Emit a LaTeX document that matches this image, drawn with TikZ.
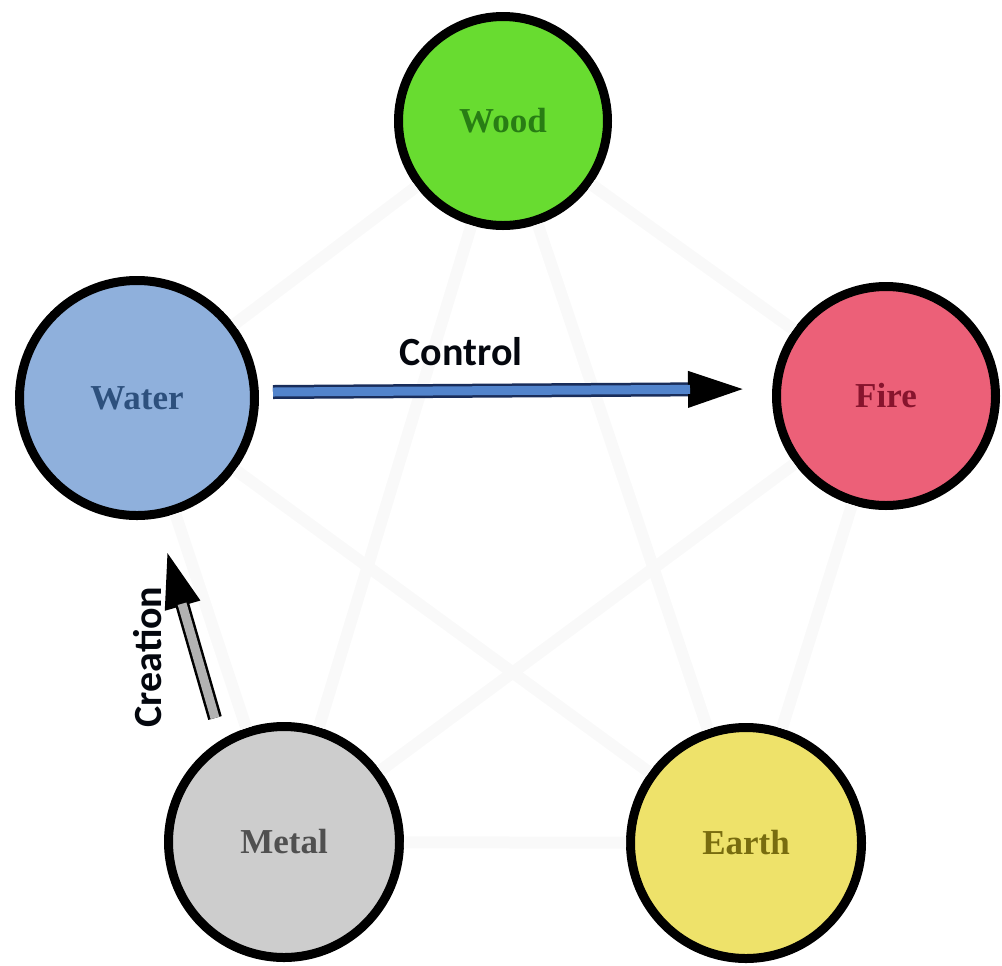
\documentclass[tikz,border=0pt]{standalone}
\usepackage{fontspec}
\setmainfont{Liberation Serif}
\newfontfamily\arrowfont{Carlito}
\usetikzlibrary{arrows.meta, calc}

\definecolor{woodgreen}{RGB}{104,220,48}
\definecolor{woodtext}{RGB}{40,125,20}
\definecolor{waterblue}{RGB}{143,176,220}
\definecolor{watertext}{RGB}{45,80,125}
\definecolor{firered}{RGB}{236,96,120}
\definecolor{firetext}{RGB}{135,20,45}
\definecolor{metalgray}{RGB}{205,205,205}
\definecolor{metaltext}{RGB}{80,80,80}
\definecolor{earthyellow}{RGB}{238,226,106}
\definecolor{earthtext}{RGB}{120,108,15}
\definecolor{ctrlblue}{RGB}{82,132,204}
\definecolor{ctrledge}{RGB}{25,45,90}

\tikzset{
  element/.style={circle, draw=black, line width=4.5pt, inner sep=0pt,
    font=\fontsize{17.5}{20}\selectfont\bfseries},
  faint/.style={draw=black!2.5, line width=6pt},
  pointer/.style={line width=7pt, -{Triangle[length=30pt, width=16pt, color=black]}},
  arrowlabel/.style={font=\arrowfont\fontsize{20}{24}\selectfont\bfseries, text=black!85!ctrledge}
}

\begin{document}
\begin{tikzpicture}[x=0.5pt, y=-0.5pt]
  \useasboundingbox (0,0) rectangle (1002,965);

  % the five elements
  \node[element, fill=woodgreen, text=woodtext, minimum size=104.5pt] (wood) at (503,121) {Wood};
  \node[element, fill=waterblue, text=watertext, minimum size=117.5pt] (water) at (137,398) {Water};
  \node[element, fill=firered, text=firetext, minimum size=109.5pt] (fire) at (886,396) {Fire};
  \node[element, fill=metalgray, text=metaltext, minimum size=115.5pt] (metal) at (284,842) {Metal};
  \node[element, fill=earthyellow, text=earthtext, minimum size=115.5pt] (earth) at (746,843) {Earth};

  % faint cycle and star
  \foreach \a/\b in {wood/fire, fire/earth, earth/metal, metal/water, water/wood,
                     wood/earth, wood/metal, fire/metal, water/earth}
    \draw[faint] (\a) -- (\b);

  % control arrow
  \coordinate (ctrlA) at (273,392);
  \coordinate (ctrlB) at (748,389);
  \draw[pointer, draw=ctrledge] (ctrlA) -- (ctrlB);
  \draw[line width=4.5pt, ctrlblue, shorten >=29pt] (ctrlA) -- (ctrlB);
  \node[arrowlabel] (ctrllbl) at (461,352) {Control};

  % creation arrow
  \coordinate (creA) at (215,718);
  \coordinate (creB) at (166,548);
  \draw[pointer, draw=black] (creA) -- (creB);
  \draw[line width=4.5pt, black!30, shorten >=29pt] (creA) -- (creB);
  \node[arrowlabel, rotate=90] (crelbl) at (148,657) {Creation};
\end{tikzpicture}
\end{document}
